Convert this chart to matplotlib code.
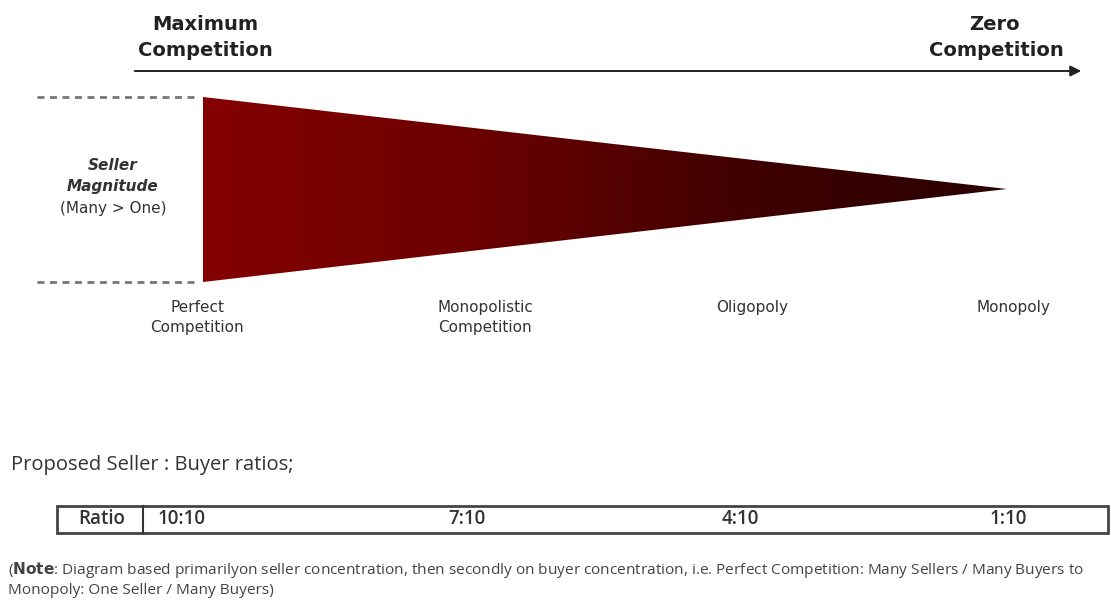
import matplotlib
matplotlib.use("Agg")
import matplotlib.pyplot as plt
import numpy as np
from matplotlib.patches import Polygon, Rectangle
from matplotlib.colors import LinearSegmentedColormap

# market structures along the competition axis
stages = ["Perfect\nCompetition", "Monopolistic\nCompetition", "Oligopoly", "Monopoly"]
stage_x = [197, 485, 752, 1013]
ratios = ["10:10", "7:10", "4:10", "1:10"]
ratio_x = [182, 467, 740, 1008]

W, H = 1111, 600
fig = plt.figure(figsize=(W / 100, H / 100), dpi=100)
ax = fig.add_axes([0, 0, 1, 1])
ax.set_xlim(0, W)
ax.set_ylim(H, 0)
ax.axis("off")

head = dict(fontsize=14, fontweight="bold", color="#222222", family="DejaVu Sans")
ax.text(205, 24, "Maximum", ha="center", va="center", **head)
ax.text(205, 51, "Competition", ha="center", va="center", **head)
ax.text(994, 24, "Zero", ha="center", va="center", **head)
ax.text(996, 51, "Competition", ha="center", va="center", **head)

ax.annotate("", xy=(1084, 71), xytext=(132, 71),
            arrowprops=dict(arrowstyle="-|>", color="#222222", lw=1.4, mutation_scale=16))

# dashed guides
for y in (97, 282):
    ax.plot([37, 198], [y, y], ls=(0, (2.5, 2)), color="#777777", lw=2)

# gradient wedge
tri = Polygon([(203, 97), (1007, 189), (203, 282)], closed=True, facecolor="none", edgecolor="none")
ax.add_patch(tri)
cmap = LinearSegmentedColormap.from_list("wedge", ["#840000", "#6c0000", "#400000", "#2a0000"])
grad = np.linspace(0, 1, 256).reshape(1, -1)
im = ax.imshow(grad, extent=(203, 1007, 282, 97), cmap=cmap, aspect="auto", interpolation="bicubic")
im.set_clip_path(tri)

side = dict(ha="center", va="center", fontsize=11, color="#333333")
ax.text(113, 165, "Seller", style="italic", fontweight="bold", **side)
ax.text(113, 187, "Magnitude", style="italic", fontweight="bold", **side)
ax.text(113, 208, "(Many > One)", **side)

for lab, x in zip(stages, stage_x):
    ax.text(x, 300, lab, ha="center", va="top", fontsize=11, color="#333333", linespacing=1.45)

ax.text(11, 465, "Proposed Seller : Buyer ratios;", ha="left", va="center",
        fontsize=14.5, family="Open Sans", color="#333333")

# ratio table
ax.add_patch(Rectangle((57, 506), 1051, 27, facecolor="none", edgecolor="#444444", lw=2))
ax.plot([143, 143], [506, 533], color="#333333", lw=1.5)
tbl = dict(ha="center", va="center", fontsize=13.5, family="Open Sans",
           fontweight="semibold", color="#333333")
ax.text(102, 519, "Ratio", **tbl)
for r, x in zip(ratios, ratio_x):
    ax.text(x, 519, r, **tbl)

note_kw = dict(fontsize=11.1, family="Open Sans", color="#444444", ha="left", va="center")
ax.text(8, 570, r"($\bf{Note}$: Diagram based primarilyon seller concentration, then secondly on buyer "
        "concentration, i.e. Perfect Competition: Many Sellers / Many Buyers to", **note_kw)
ax.text(8, 590, "Monopoly: One Seller / Many Buyers)", **note_kw)

fig.savefig("out.png", dpi=100)
